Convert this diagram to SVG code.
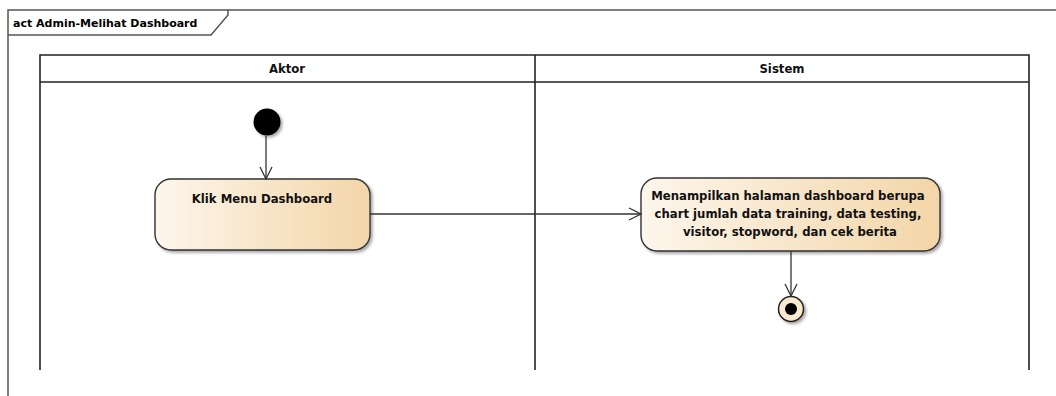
<svg xmlns="http://www.w3.org/2000/svg" width="1056" height="396" viewBox="0 0 1056 396">
  <style>
    .frame { fill: none; stroke: #555; stroke-width: 1.5; }
    .lane { fill: none; stroke: #222; stroke-width: 1.6; }
    .lbl { font-family: "DejaVu Sans", "Liberation Sans", sans-serif; font-weight: bold; font-size: 11.7px; fill: #111; }
    .title { font-family: "DejaVu Sans", "Liberation Sans", sans-serif; font-weight: bold; font-size: 11px; fill: #000; }
    .act { fill: url(#actFill); stroke: #333; stroke-width: 1.4; }
    .flow { fill: none; stroke: #333; stroke-width: 1.3; }
  </style>
  <defs>
    <linearGradient id="actFill" x1="0" y1="0" x2="1" y2="0">
      <stop offset="0" stop-color="#fdf6ec"/>
      <stop offset="1" stop-color="#f3d6a8"/>
    </linearGradient>
    <filter id="shadow" x="-10%" y="-10%" width="130%" height="140%">
      <feGaussianBlur in="SourceAlpha" stdDeviation="1.5"/>
      <feOffset dx="2" dy="2" result="b"/>
      <feComponentTransfer><feFuncA type="linear" slope="0.35"/></feComponentTransfer>
      <feMerge><feMergeNode/><feMergeNode in="SourceGraphic"/></feMerge>
    </filter>
    <marker id="open" viewBox="0 0 14 14" refX="13" refY="7" markerWidth="14" markerHeight="14" markerUnits="userSpaceOnUse" orient="auto">
      <path d="M1,1 L13,7 L1,13" fill="none" stroke="#333" stroke-width="1.3"/>
    </marker>
  </defs>

  <!-- diagram frame with name tab -->
  <g id="frame">
    <path class="frame" d="M8,396 V10 H1056"/>
    <path class="frame" d="M8,35 H211 L228,15 V10"/>
    <text class="title" x="13" y="27">act Admin-Melihat Dashboard</text>
  </g>

  <!-- swimlanes -->
  <g id="lanes">
    <path class="lane" d="M40,370 V55 H1029 V370"/>
    <line class="lane" x1="40" y1="82" x2="1029" y2="82"/>
    <line class="lane" x1="535" y1="55" x2="535" y2="370"/>
    <text class="lbl" x="287" y="73" text-anchor="middle">Aktor</text>
    <text class="lbl" x="782" y="73" text-anchor="middle">Sistem</text>
  </g>

  <g id="start">
    <circle cx="267" cy="122" r="13.5" fill="#000" filter="url(#shadow)"/>
  </g>

  <g id="klik-menu">
    <rect class="act" x="155" y="179" width="215" height="71" rx="16" filter="url(#shadow)"/>
    <text class="lbl" x="262" y="203" text-anchor="middle">Klik Menu Dashboard</text>
  </g>

  <g id="tampil-dashboard">
    <rect class="act" x="641" y="178" width="299" height="73" rx="16" filter="url(#shadow)"/>
    <text class="lbl" text-anchor="middle">
      <tspan x="790" y="200">Menampilkan halaman dashboard berupa</tspan>
      <tspan x="790" y="218">chart jumlah data training, data testing,</tspan>
      <tspan x="790" y="236">visitor, stopword, dan cek berita</tspan>
    </text>
  </g>

  <g id="end">
    <circle cx="791" cy="309" r="12.5" fill="#fbe9cf" stroke="#222" stroke-width="1.5" filter="url(#shadow)"/>
    <circle cx="791" cy="309" r="6" fill="#000"/>
  </g>

  <!-- control flows -->
  <g id="connectors">
    <line class="flow" x1="266" y1="136" x2="266" y2="179" marker-end="url(#open)"/>
    <line class="flow" x1="370" y1="214" x2="641" y2="214" marker-end="url(#open)"/>
    <line class="flow" x1="791" y1="251" x2="791" y2="296" marker-end="url(#open)"/>
  </g>
</svg>
